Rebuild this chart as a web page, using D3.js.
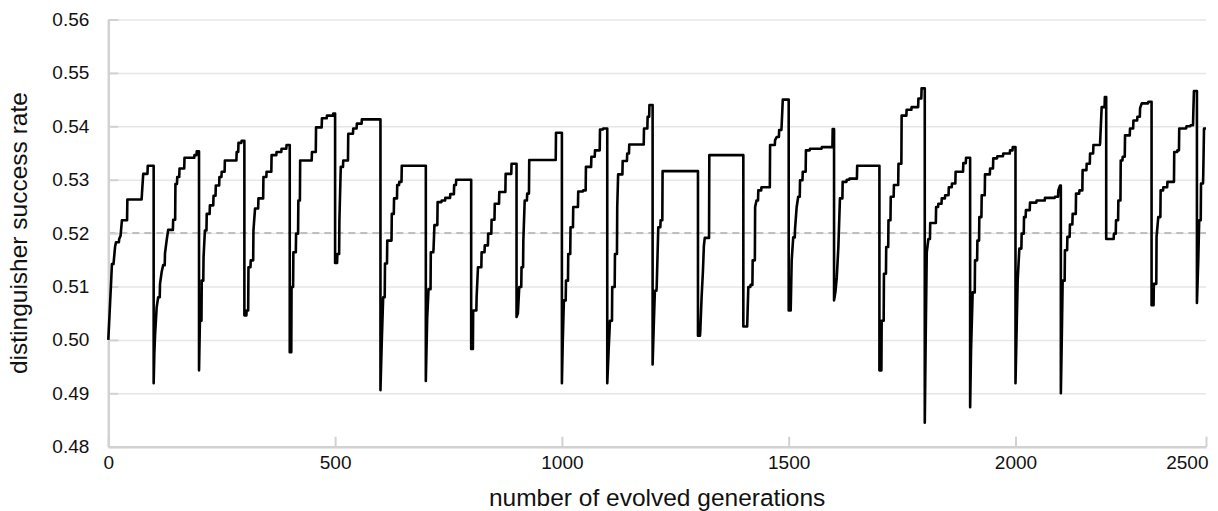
<!DOCTYPE html>
<html>
<head>
<meta charset="utf-8">
<script src="https://cdn.jsdelivr.net/npm/d3@7"></script>
<style>
  body { margin: 0; background: #fff; }
  svg { display: block; }
  .axis path, .axis line { stroke: #d2d2d2; }
  .grid line { stroke: #e6e6e6; }
  .grid path { display: none; }
</style>
</head>
<body>
<svg id="chart"></svg>
<script>
// generations per evolution run (the sawtooth resets every 100 gens)
var cycleLength = 100
var lastGen = 2420

// step points of each run: [offset within run, distinguisher success rate]
var runs = [
  [[0,.500],[2,.5035],[4,.507],[6,.5105],[8,.5142],[12,.5147],[15,.5175],[17,.5183],[24,.5189],[27,.5195],[30,.5224],[42,.5263],[74,.5271],[77,.5311],[87,.5326]],
  [[0,.4919],[1.5,.4974],[3,.5008],[6.6,.5061],[10,.508],[14,.5105],[17.6,.5127],[21,.514],[25,.5162],[28.7,.5187],[32,.5206],[43,.5225],[48,.5292],[52,.5305],[57,.5321],[68,.5341],[90,.5346],[95,.5353]],
  [[0,.4943],[2,.5036],[6,.5111],[10,.5155],[13,.5205],[17,.5236],[24,.5252],[32,.527],[37,.5289],[45,.5305],[50,.5315],[57,.5336],[83,.5352],[87,.5369],[94,.5373]],
  [[0,.5046],[5,.5055],[9,.5136],[14,.5149],[20,.5205],[23.5,.5246],[31,.5265],[42,.5305],[49,.5315],[60,.5346],[71,.5352],[82,.5358],[93,.5365]],
  [[0,.4977],[4,.5099],[8,.5164],[14,.5199],[19,.5261],[23,.5336],[49,.5352],[58,.5398],[71,.5415],[82,.542],[96,.5424]],
  [[0,.5144],[5,.5161],[9.5,.5224],[12.5,.5324],[18,.5336],[29,.5386],[40,.5396],[48,.5405],[59,.5413]],
  [[0,.4906],[3,.500],[6,.508],[10,.5143],[15,.5186],[25,.5236],[30,.5265],[37,.529],[41.5,.5296],[47,.5326]],
  [[0,.4923],[3,.504],[6,.5095],[11,.5164],[17,.517],[19,.5215],[26,.5258],[35,.5261],[43,.5266],[54,.5273],[62.5,.529],[67,.530]],
  [[0,.4983],[4.4,.5055],[12,.508],[15,.5136],[23,.5164],[30,.5177],[37.5,.5199],[45,.5225],[52,.5255],[62,.5277],[76,.5311],[89,.533]],
  [[0,.5043],[3,.505],[6,.5099],[11,.5136],[15,.5186],[18,.5261],[23.5,.5274],[28,.5337],[87,.5388]],
  [[0,.4919],[2,.500],[4.4,.5074],[9,.5111],[14,.5161],[19,.5211],[25,.5249],[36,.5278],[47,.528],[53,.5324],[65,.5343],[73,.5355],[84,.5394],[91,.5396]],
  [[0,.4919],[3,.498],[6,.5036],[11,.5099],[17,.5161],[22,.5249],[24,.531],[34,.5335],[44,.5349],[48.5,.5366],[81,.5396],[89,.5418],[93,.544]],
  [[0,.4954],[3,.504],[5,.5092],[9,.5099],[12.5,.5211],[17.6,.5224],[22,.5316]],
  [[0,.5008],[5,.5015],[8,.508],[11,.513],[13,.5176],[15,.5191],[25,.5346]],
  [[0,.5025],[9,.504],[11,.5099],[16,.5103],[20.6,.5149],[26,.5249],[29,.5261],[33,.528],[40,.5286],[59,.5365],[70,.5374],[73.5,.538],[79,.5393],[84.5,.5402],[87,.545]],
  [[0,.5055],[5,.508],[6.6,.5149],[10,.5192],[14,.5208],[17.6,.5249],[21,.5268],[25,.5299],[31,.5315],[38,.5355],[47,.5358],[73,.5361],[97,.5395]],
  [[0,.5074],[3,.509],[6,.5117],[9.5,.5174],[13,.5265],[19,.5296],[28,.530],[34,.5302],[51,.5326]],
  [[0,.4943],[5,.5036],[10,.5124],[15,.5174],[20,.5224],[25,.5268],[32,.529],[42,.533],[49,.542],[60,.5431],[71,.5436],[86,.5452],[93,.5471]],
  [[0,.4845],[2,.500],[4.4,.5164],[8,.5189],[12,.5219],[25,.5249],[30,.5255],[37.5,.5265],[45,.5271],[53,.5286],[60,.5293],[68,.5315],[85,.5331],[91,.5341]],
  [[0,.4874],[2,.498],[5.6,.5089],[10.8,.5149],[16,.5186],[20.3,.523],[25.5,.5271],[32.8,.531],[44,.5321],[51,.534],[60,.5344],[73,.5349],[88,.5355],[94,.5361]],
  [[0,.4919],[2,.500],[4.8,.5111],[8.5,.5171],[13.6,.5199],[18.8,.523],[23,.5243],[32,.5257],[46.6,.5261],[65,.5266],[87,.5268],[94.4,.528],[98,.5289]],
  [[0,.490],[2,.500],[4,.5111],[9,.5168],[14.4,.5193],[20,.5216],[26,.5236],[33.5,.5274],[41,.528],[48,.5318],[57,.533],[64.4,.5349],[71.8,.5365],[86.5,.5368],[90,.5436],[97,.5455]],
  [[0,.5189],[17,.5199],[21.6,.5224],[26.8,.5261],[32,.5336],[36.4,.5343],[41.5,.5383],[52.5,.5396],[60,.5411],[68.8,.5418],[74.7,.5434],[78.4,.5443],[93,.5446]],
  [[0,.5065],[5,.5105],[11,.5193],[14.8,.523],[20,.528],[26,.5286],[35,.5296],[50,.5352],[57,.5355],[61,.5396],[77,.54],[86,.5402],[92,.5424],[93.4,.5466]],
  [[0,.5069],[3,.515],[5,.5224],[9,.5293],[14,.5311],[15.6,.5396],[20,.5396]]
]

var chance = [0.52]
var yTicks = [0.48, 0.49, 0.50, 0.51, 0.52, 0.53, 0.54, 0.55, 0.56]
var xTicks = [0, 500, 1000, 1500, 2000, 2420]
var xTickLabels = ["0", "500", "1000", "1500", "2000", "2500"]

var screen = {width:1218, height:511}
var margins = {top:19.5, right:12, bottom:64.3, left:108.3}
var width = screen.width - margins.left - margins.right
var height = screen.height - margins.top - margins.bottom

// turn the step points into a path: short gaps are drawn as a slope,
// longer gaps hold the value first (a flat tread) and then step up
var points = []
runs.forEach(function(run, k){
    run.forEach(function(p, i){
        var gen = k*cycleLength + p[0]
        if (i > 0) {
            var prev = run[i-1]
            if (p[0] - prev[0] >= 4) points.push({gen: gen - 0.6, rate: prev[1]})
        } else if (k > 0) {
            var last = runs[k-1][runs[k-1].length-1]
            points.push({gen: gen, rate: last[1]})
        }
        points.push({gen: gen, rate: p[1]})
    })
})

var svg = d3.select("#chart")
    .attr("width", screen.width)
    .attr("height", screen.height)

var graph = svg.append("g")
    .attr("transform","translate("+margins.left+","+margins.top+")")

var xScale = d3.scaleLinear()
                .domain([0,lastGen])
                .range([0,width])
var yScale = d3.scaleLinear()
                .domain([0.48,0.56])
                .range([height,0])

//grid lines
graph.append("g")
    .attr("class","grid")
    .call(d3.axisLeft(yScale).tickValues(yTicks.slice(1)).tickSize(-width).tickFormat(""))
    .selectAll("line")
    .attr("stroke-width",1.5)

//dashed 0.52 line
graph.selectAll(".chance")
    .data(chance)
    .enter()
    .append("line")
    .attr("class","chance")
    .attr("x1",0)
    .attr("x2",width)
    .attr("y1",function(d){return yScale(d)})
    .attr("y2",function(d){return yScale(d)})
    .attr("stroke","#bfbfbf")
    .attr("stroke-width",2)
    .attr("stroke-dasharray","7,5")

//axes
var yAxis = d3.axisLeft(yScale)
    .tickValues(yTicks)
    .tickSizeInner(-10)
    .tickSizeOuter(0)
    .tickPadding(19)
    .tickFormat(function(d){return d.toFixed(2)})

var xAxis = d3.axisBottom(xScale)
    .tickValues(xTicks)
    .tickSizeInner(-10)
    .tickSizeOuter(0)
    .tickPadding(9)
    .tickFormat(function(d,i){return xTickLabels[i]})

var gy = graph.append("g")
    .attr("class","axis")
    .call(yAxis)
gy.select(".domain").attr("stroke-width",2.5)
gy.selectAll("line").attr("stroke-width",2)
gy.selectAll("text")
    .attr("fill","#111")
    .style("font-family","'Liberation Sans Narrow','Arial Narrow','Liberation Sans',Arial,sans-serif")
    .style("font-size","19px")

var gx = graph.append("g")
    .attr("class","axis")
    .attr("transform","translate(0,"+height+")")
    .call(xAxis)
gx.select(".domain").attr("stroke-width",2.5)
gx.selectAll("line").attr("stroke-width",2)
gx.selectAll("text")
    .attr("fill","#111")
    .style("font-family","'Liberation Sans',Arial,sans-serif")
    .style("font-size","19px")
gx.selectAll(".tick:last-of-type text")
    .attr("text-anchor","end")
    .attr("dx","2")

//the line
var line = d3.line()
    .x(function(d){return xScale(d.gen)})
    .y(function(d){return yScale(d.rate)})

graph.append("path")
    .datum(points)
    .attr("d", line)
    .attr("fill","none")
    .attr("stroke","#000")
    .attr("stroke-width",2.6)
    .attr("stroke-linejoin","round")

//titles
svg.append("text")
    .text("number of evolved generations")
    .attr("x", margins.left + width/2)
    .attr("y", 506)
    .attr("text-anchor","middle")
    .style("font-family","'Liberation Sans',Arial,sans-serif")
    .style("font-size","24.5px")
    .attr("fill","#111")

svg.append("text")
    .text("distinguisher success rate")
    .attr("transform","translate(27,"+(margins.top + height/2)+") rotate(-90)")
    .attr("text-anchor","middle")
    .style("font-family","'Liberation Sans',Arial,sans-serif")
    .style("font-size","24.5px")
    .attr("fill","#111")
</script>
</body>
</html>
